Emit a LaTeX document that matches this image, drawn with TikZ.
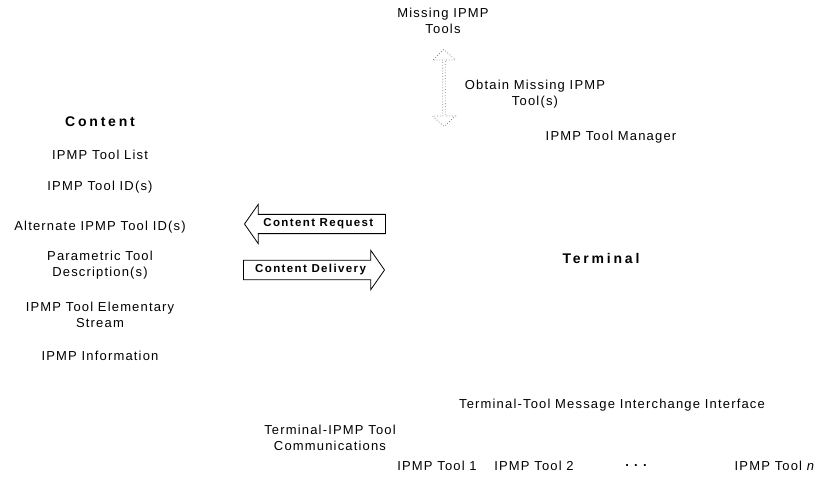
\documentclass[tikz,border=0pt]{standalone}
\usepackage{fontspec}
\setmainfont{Liberation Sans}[LetterSpace=9]
\usepackage{tikz}
\usetikzlibrary{shapes.arrows, positioning}
\tikzstyle{txt} = [align=center, inner sep=0pt, font=\fontsize{13}{16}\selectfont]
\tikzstyle{heading} = [inner sep=0pt, font=\fontsize{14}{16}\selectfont\bfseries\addfontfeature{LetterSpace=20}]
\tikzstyle{blockarrow} = [single arrow, draw=black, thick, fill=white, single arrow head extend=10pt, single arrow tip angle=110, minimum height=141pt, inner xsep=2.5pt, inner ysep=4pt, font=\fontsize{11.5}{13}\selectfont\bfseries\addfontfeature{LetterSpace=12}]
\tikzstyle{fetch} = [double arrow, draw=gray, dotted, thick, double arrow head extend=3.5pt, double arrow tip angle=95, minimum height=77pt, minimum width=23pt, inner sep=0pt, shape border rotate=90]

\begin{document}
\begin{tikzpicture}[x=1pt, y=1pt]
\useasboundingbox (0,0) rectangle (824,-487);

% tool manager side
\node (missing) [txt] at (443,-21) {Missing IPMP\\Tools};
\node (fetch) [fetch] at (444,-88) {};
\node (obtain) [txt] at (535,-94) {Obtain Missing IPMP\\Tool(s)};
\node (manager) [txt] at (611,-137) {IPMP Tool Manager};

% content side
\node (content) [heading] at (100,-122) {Content};
\node (toollist) [txt] at (100,-155) {IPMP Tool List};
\node (toolid) [txt] at (100,-187) {IPMP Tool ID(s)};
\node (altid) [txt] at (100,-227) {Alternate IPMP Tool ID(s)};
\node (param) [txt] at (100,-265.5) {Parametric Tool\\Description(s)};
\node (stream) [txt] at (100,-314.5) {IPMP Tool Elementary\\Stream};
\node (info) [txt] at (100,-356) {IPMP Information};

% request and delivery
\node (request) [blockarrow, shape border rotate=180, anchor=tip] at (244,-224) {Content Request};
\node (delivery) [blockarrow, anchor=tip] at (385,-270) {Content Delivery};

% terminal side
\node (terminal) [heading] at (601,-258) {Terminal};
\node (interface) [txt] at (612,-405) {Terminal-Tool Message Interchange Interface};
\node (comms) [txt] at (330,-438) {Terminal-IPMP Tool\\Communications};

% tools
\node (tool1) [txt] at (437,-466) {IPMP Tool 1};
\node (tool2) [txt] at (534,-466) {IPMP Tool 2};
\node (dots) [txt, font=\fontsize{13}{16}\selectfont\bfseries\addfontfeature{LetterSpace=40}] at (636,-466) {...};
\node (tooln) [txt] at (775,-466) {IPMP Tool \textit{n}};
\end{tikzpicture}
\end{document}
